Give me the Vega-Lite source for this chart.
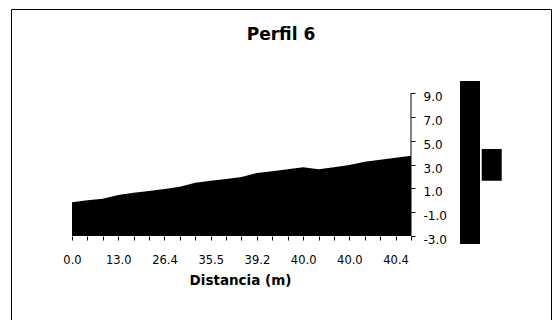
{
  "$schema": "https://vega.github.io/schema/vega-lite/v6.json",
  "width": 540,
  "height": 311,
  "autosize": "none",
  "padding": {"left": 11, "top": 9, "right": 1, "bottom": 0},
  "background": "white",
  "title": {
    "text": "Perfil 6",
    "font": "DejaVu Sans",
    "fontSize": 17,
    "fontWeight": "bold",
    "color": "black",
    "anchor": "middle",
    "frame": "group",
    "baseline": "alphabetic",
    "offset": -48
  },
  "config": {
    "view": {"stroke": "black", "strokeWidth": 1, "strokeDash": [851, 540, 311, 0]},
    "axis": {"grid": false}
  },
  "data": {
    "values": [
      {"i": 0, "elev": -0.17},
      {"i": 1, "elev": 0.0},
      {"i": 2, "elev": 0.13},
      {"i": 3, "elev": 0.44},
      {"i": 4, "elev": 0.63},
      {"i": 5, "elev": 0.78},
      {"i": 6, "elev": 0.94},
      {"i": 7, "elev": 1.14},
      {"i": 8, "elev": 1.47},
      {"i": 9, "elev": 1.64},
      {"i": 10, "elev": 1.78},
      {"i": 11, "elev": 1.95},
      {"i": 12, "elev": 2.28},
      {"i": 13, "elev": 2.43},
      {"i": 14, "elev": 2.6},
      {"i": 15, "elev": 2.76},
      {"i": 16, "elev": 2.6},
      {"i": 17, "elev": 2.76},
      {"i": 18, "elev": 2.96},
      {"i": 19, "elev": 3.23},
      {"i": 20, "elev": 3.4},
      {"i": 21, "elev": 3.57},
      {"i": 22, "elev": 3.74}
    ]
  },
  "layer": [
    {
      "mark": {"type": "area", "color": "black", "opacity": 1, "fillOpacity": 1, "clip": false},
      "encoding": {
        "x": {
          "field": "i",
          "type": "quantitative",
          "scale": {"domain": [-3.959, 31.086], "nice": false, "zero": false},
          "axis": {
            "orient": "bottom",
            "offset": -84,
            "values": [0, 1, 2, 3, 4, 5, 6, 7, 8, 9, 10, 11, 12, 13, 14, 15, 16, 17, 18, 19, 20, 21, 22],
            "tickCount": 40,
            "domain": false,
            "grid": false,
            "tickSize": 4,
            "tickColor": "black",
            "labelExpr": "datum.value == 0 ? '0.0' : datum.value == 3 ? '13.0' : datum.value == 6 ? '26.4' : datum.value == 9 ? '35.5' : datum.value == 12 ? '39.2' : datum.value == 15 ? '40.0' : datum.value == 18 ? '40.0' : datum.value == 21 ? '40.4' : ''",
            "labelFont": "DejaVu Sans",
            "labelFontSize": 11.5,
            "labelColor": "black",
            "labelPadding": 14,
            "labelFlush": false,
            "labelOverlap": false,
            "labelBound": false,
            "title": "Distancia (m)",
            "titleFont": "DejaVu Sans",
            "titleFontSize": 13.5,
            "titleFontWeight": "bold",
            "titleColor": "black",
            "titlePadding": 8,
            "titleX": 229,
            "titleAlign": "center"
          }
        },
        "y": {
          "field": "elev",
          "type": "quantitative",
          "scale": {"domain": [-10.049, 16.049], "nice": false, "zero": false},
          "axis": {
            "orient": "right",
            "offset": -140,
            "values": [-3, -1, 1, 3, 5, 7, 9],
            "tickCount": 20,
            "domain": false,
            "grid": false,
            "tickSize": 4,
            "tickColor": "black",
            "labelExpr": "replace(format(datum.value, '.1f'), '\u2212', '-')",
            "labelFont": "DejaVu Sans",
            "labelFontSize": 12,
            "labelColor": "black",
            "labelPadding": 8,
            "labelOffset": 3.5,
            "labelFlush": false,
            "labelOverlap": false,
            "labelBound": false,
            "title": null
          }
        },
        "y2": {"datum": -3},
        "color": {
          "datum": "Perfil 6",
          "scale": {"range": ["black"]},
          "legend": {
            "title": null,
            "orient": "none",
            "legendX": 377.5,
            "legendY": 72.1,
            "padding": 0,
            "symbolType": "M-0.1227,-1H0.1227V1H-0.1227Z M0.1436,-0.167H0.389V0.222H0.1436Z",
            "symbolSize": 26569,
            "symbolFillColor": "black",
            "symbolStrokeWidth": 0,
            "symbolOpacity": 1,
            "labelExpr": "''",
            "labelFontSize": 1
          }
        }
      }
    },
    {
      "data": {"values": [{}]},
      "mark": {"type": "rule", "color": "black", "strokeWidth": 1},
      "encoding": {
        "x": {"datum": 22},
        "y": {"datum": -3},
        "y2": {"datum": 9}
      }
    }
  ]
}
